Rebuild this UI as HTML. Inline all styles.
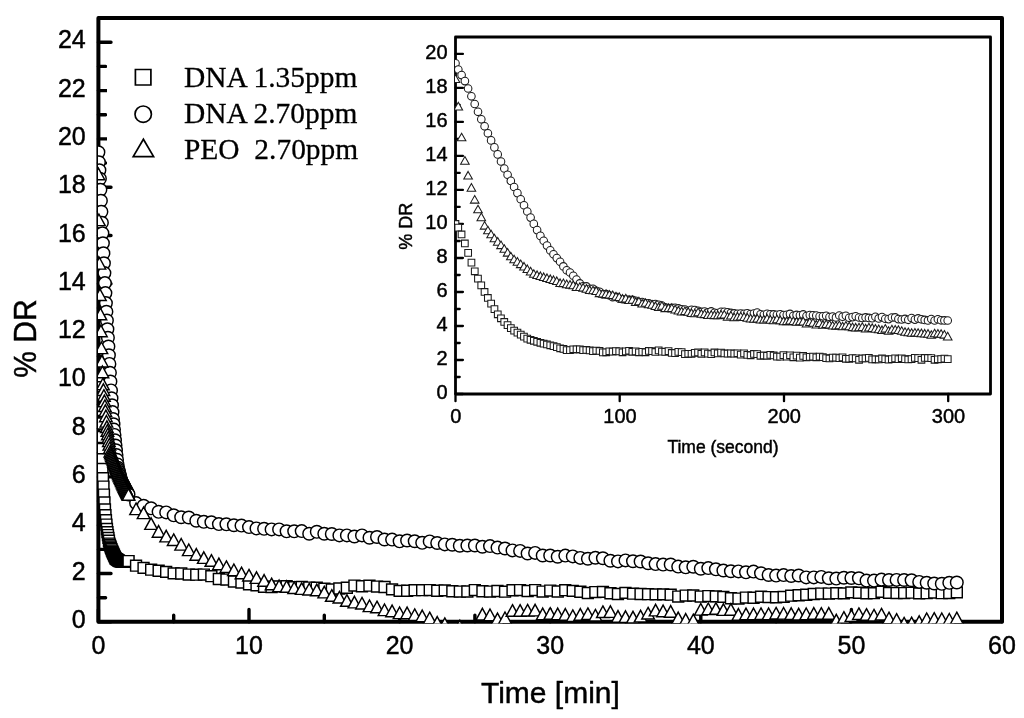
<!DOCTYPE html>
<html lang="en"><head><meta charset="utf-8"><title>% DR vs Time</title>
<style>
html,body{margin:0;padding:0;background:#fff}
svg{display:block}
text{font-family:"Liberation Sans",Arial,Helvetica,sans-serif;fill:#000;stroke:#000;stroke-width:0.45px}
.leg text{font-family:"Liberation Serif","Times New Roman",serif;font-size:29.45px;white-space:pre;stroke-width:0.28px}
.mt{font-size:25px}
.it{font-size:20px}
.m path,.m circle{fill:#fff;stroke:#000;stroke-width:1.45}
.i path,.i circle{fill:#fff;stroke:#1a1a1a;stroke-width:1.05}
</style></head><body>
<svg width="1024" height="718" viewBox="0 0 1024 718">
<rect width="1024" height="718" fill="#fff"/>
<defs><clipPath id="cm"><rect x="98" y="18" width="906" height="605.4"/></clipPath><clipPath id="ci"><rect x="455" y="37" width="536" height="358"/></clipPath></defs>
<g stroke="#000" fill="none" stroke-linejoin="round" stroke-linecap="round">
<rect x="98.4" y="18" width="903.6" height="603.8" stroke-width="4"/>
<path d="M98.4 621.8h12.6M98.4 597.7h7.2M98.4 573.5h12.6M98.4 549.4h7.2M98.4 525.2h12.6M98.4 501.1h7.2M98.4 476.9h12.6M98.4 452.8h7.2M98.4 428.6h12.6M98.4 404.5h7.2M98.4 380.3h12.6M98.4 356.2h7.2M98.4 332h12.6M98.4 307.9h7.2M98.4 283.8h12.6M98.4 259.6h7.2M98.4 235.5h12.6M98.4 211.3h7.2M98.4 187.2h12.6M98.4 163h7.2M98.4 138.9h12.6M98.4 114.7h7.2M98.4 90.6h12.6M98.4 66.4h7.2M98.4 42.3h12.6M98.4 621.8v-12.4M173.7 621.8v-6.6M249 621.8v-12.4M324.3 621.8v-6.6M399.6 621.8v-12.4M474.9 621.8v-6.6M550.2 621.8v-12.4M625.5 621.8v-6.6M700.8 621.8v-12.4M776.1 621.8v-6.6M851.4 621.8v-12.4M926.7 621.8v-6.6M1002 621.8v-12.4" stroke-width="3.4"/>
</g>
<g class="mt" text-anchor="end">
<text x="85.7" y="627.9">0</text><text x="85.7" y="579.6">2</text><text x="85.7" y="531.3">4</text><text x="85.7" y="483">6</text><text x="85.7" y="434.7">8</text><text x="85.7" y="386.4">10</text><text x="85.7" y="338.1">12</text><text x="85.7" y="289.9">14</text><text x="85.7" y="241.6">16</text><text x="85.7" y="193.3">18</text><text x="85.7" y="145">20</text><text x="85.7" y="96.7">22</text><text x="85.7" y="48.4">24</text>
</g>
<g class="mt" text-anchor="middle">
<text x="98.4" y="654">0</text><text x="249" y="654">10</text><text x="399.6" y="654">20</text><text x="550.2" y="654">30</text><text x="700.8" y="654">40</text><text x="851.4" y="654">50</text><text x="1002" y="654">60</text>
</g>
<text x="550.4" y="702.5" text-anchor="middle" font-size="30">Time [min]</text>
<text transform="translate(36.1 338.6) rotate(-90) scale(1 1.05)" text-anchor="middle" font-size="30">% DR</text>
<g class="leg">
<rect x="107" y="55" width="270" height="118" fill="#fff"/>
<path d="M135.4 69.5h15.5v15.5h-15.5z" fill="none" stroke="#000" stroke-width="1.7"/><circle cx="143.2" cy="114.2" r="8.2" fill="none" stroke="#000" stroke-width="1.7"/><path d="M143.4 139.2L153.6 156.6H133.2Z" fill="none" stroke="#000" stroke-width="1.7"/>
<text x="184" y="86.7">DNA 1.35ppm</text>
<text x="184" y="122.9">DNA 2.70ppm</text>
<text x="184" y="158.8" xml:space="preserve">PEO  2.70ppm</text>
</g>
<g class="m" clip-path="url(#cm)">
<path d="M93 374.9h10.9v10.9h-10.9z"/><path d="M93.5 381.7h10.9v10.9h-10.9z"/><path d="M94 391.8h10.9v10.9h-10.9z"/><path d="M94.5 404.5h10.9v10.9h-10.9z"/><path d="M95 418h10.9v10.9h-10.9z"/><path d="M95.5 431.6h10.9v10.9h-10.9z"/><path d="M96 443.6h10.9v10.9h-10.9z"/><path d="M96.5 453.8h10.9v10.9h-10.9z"/><path d="M97 463.5h10.9v10.9h-10.9z"/><path d="M97.5 472.7h10.9v10.9h-10.9z"/><path d="M98 481.1h10.9v10.9h-10.9z"/><path d="M98.5 489.1h10.9v10.9h-10.9z"/><path d="M99 496.9h10.9v10.9h-10.9z"/><path d="M99.5 504h10.9v10.9h-10.9z"/><path d="M100 509.7h10.9v10.9h-10.9z"/><path d="M100.5 514.7h10.9v10.9h-10.9z"/><path d="M101 519.1h10.9v10.9h-10.9z"/><path d="M101.5 523.5h10.9v10.9h-10.9z"/><path d="M102 526.7h10.9v10.9h-10.9z"/><path d="M102.5 529.6h10.9v10.9h-10.9z"/><path d="M103 532.4h10.9v10.9h-10.9z"/><path d="M103.5 535.3h10.9v10.9h-10.9z"/><path d="M104 538.1h10.9v10.9h-10.9z"/><path d="M104.5 539.5h10.9v10.9h-10.9z"/><path d="M105 540.9h10.9v10.9h-10.9z"/><path d="M105.5 542.3h10.9v10.9h-10.9z"/><path d="M106 543.7h10.9v10.9h-10.9z"/><path d="M106.5 545.1h10.9v10.9h-10.9z"/><path d="M107 546.2h10.9v10.9h-10.9z"/><path d="M107.5 547.3h10.9v10.9h-10.9z"/><path d="M108 548.4h10.9v10.9h-10.9z"/><path d="M108.5 549.5h10.9v10.9h-10.9z"/><path d="M109 550.6h10.9v10.9h-10.9z"/><path d="M109.5 551.7h10.9v10.9h-10.9z"/><path d="M110 552.8h10.9v10.9h-10.9z"/><path d="M110.5 553.2h10.9v10.9h-10.9z"/><path d="M111 553.6h10.9v10.9h-10.9z"/><path d="M111.5 553.9h10.9v10.9h-10.9z"/><path d="M112 554.3h10.9v10.9h-10.9z"/><path d="M112.5 554.6h10.9v10.9h-10.9z"/><path d="M113 555h10.9v10.9h-10.9z"/><path d="M113.5 555.3h10.9v10.9h-10.9z"/><path d="M114 555.6h10.9v10.9h-10.9z"/><path d="M114.5 555.6h10.9v10.9h-10.9z"/><path d="M115 555.7h10.9v10.9h-10.9z"/><path d="M115.5 555.8h10.9v10.9h-10.9z"/><path d="M116 555.9h10.9v10.9h-10.9z"/><path d="M116.5 556h10.9v10.9h-10.9z"/><path d="M117 556.1h10.9v10.9h-10.9z"/><path d="M117.5 556.2h10.9v10.9h-10.9z"/><path d="M118 556.3h10.9v10.9h-10.9z"/><path d="M118.6 556.4h10.9v10.9h-10.9z"/><path d="M119.1 556.4h10.9v10.9h-10.9z"/><path d="M119.6 556.3h10.9v10.9h-10.9z"/><path d="M120.1 556.2h10.9v10.9h-10.9z"/><path d="M120.6 556.1h10.9v10.9h-10.9z"/><path d="M121.1 556h10.9v10.9h-10.9z"/><path d="M121.6 555.9h10.9v10.9h-10.9z"/><path d="M122.1 555.8h10.9v10.9h-10.9z"/><path d="M122.6 555.7h10.9v10.9h-10.9z"/><path d="M123.1 555.6h10.9v10.9h-10.9z"/><path d="M130.6 560.2h10.9v10.9h-10.9z"/><path d="M138.1 562.4h10.9v10.9h-10.9z"/><path d="M145.7 564.2h10.9v10.9h-10.9z"/><path d="M153.2 565.3h10.9v10.9h-10.9z"/><path d="M160.7 566.4h10.9v10.9h-10.9z"/><path d="M168.2 567.9h10.9v10.9h-10.9z"/><path d="M175.8 568h10.9v10.9h-10.9z"/><path d="M183.3 569.1h10.9v10.9h-10.9z"/><path d="M190.8 569.2h10.9v10.9h-10.9z"/><path d="M198.4 569.1h10.9v10.9h-10.9z"/><path d="M205.9 570.7h10.9v10.9h-10.9z"/><path d="M213.4 573.5h10.9v10.9h-10.9z"/><path d="M221 574.1h10.9v10.9h-10.9z"/><path d="M228.5 576h10.9v10.9h-10.9z"/><path d="M236 577h10.9v10.9h-10.9z"/><path d="M243.6 578.8h10.9v10.9h-10.9z"/><path d="M251.1 579.8h10.9v10.9h-10.9z"/><path d="M258.6 581.3h10.9v10.9h-10.9z"/><path d="M266.1 581.5h10.9v10.9h-10.9z"/><path d="M273.7 580.9h10.9v10.9h-10.9z"/><path d="M281.2 580.8h10.9v10.9h-10.9z"/><path d="M288.7 581.7h10.9v10.9h-10.9z"/><path d="M296.3 581.5h10.9v10.9h-10.9z"/><path d="M303.8 582.1h10.9v10.9h-10.9z"/><path d="M311.3 582.3h10.9v10.9h-10.9z"/><path d="M318.9 583.2h10.9v10.9h-10.9z"/><path d="M326.4 584h10.9v10.9h-10.9z"/><path d="M333.9 583h10.9v10.9h-10.9z"/><path d="M341.4 582.3h10.9v10.9h-10.9z"/><path d="M349 580.1h10.9v10.9h-10.9z"/><path d="M356.5 580.8h10.9v10.9h-10.9z"/><path d="M364 580.2h10.9v10.9h-10.9z"/><path d="M371.6 581.1h10.9v10.9h-10.9z"/><path d="M379.1 581.5h10.9v10.9h-10.9z"/><path d="M386.6 583.9h10.9v10.9h-10.9z"/><path d="M394.2 585.4h10.9v10.9h-10.9z"/><path d="M401.7 585.3h10.9v10.9h-10.9z"/><path d="M409.2 584.7h10.9v10.9h-10.9z"/><path d="M416.7 584.7h10.9v10.9h-10.9z"/><path d="M424.3 584.6h10.9v10.9h-10.9z"/><path d="M431.8 585.3h10.9v10.9h-10.9z"/><path d="M439.3 584.9h10.9v10.9h-10.9z"/><path d="M446.9 585.8h10.9v10.9h-10.9z"/><path d="M454.4 586.1h10.9v10.9h-10.9z"/><path d="M461.9 586h10.9v10.9h-10.9z"/><path d="M469.4 584.6h10.9v10.9h-10.9z"/><path d="M477 585.8h10.9v10.9h-10.9z"/><path d="M484.5 586.1h10.9v10.9h-10.9z"/><path d="M492 585.5h10.9v10.9h-10.9z"/><path d="M499.6 586.2h10.9v10.9h-10.9z"/><path d="M507.1 584.8h10.9v10.9h-10.9z"/><path d="M514.6 584.6h10.9v10.9h-10.9z"/><path d="M522.2 585.5h10.9v10.9h-10.9z"/><path d="M529.7 584.6h10.9v10.9h-10.9z"/><path d="M537.2 586.1h10.9v10.9h-10.9z"/><path d="M544.8 585.1h10.9v10.9h-10.9z"/><path d="M552.3 586h10.9v10.9h-10.9z"/><path d="M559.8 584.7h10.9v10.9h-10.9z"/><path d="M567.3 585.4h10.9v10.9h-10.9z"/><path d="M574.9 586.3h10.9v10.9h-10.9z"/><path d="M582.4 587.5h10.9v10.9h-10.9z"/><path d="M589.9 586.6h10.9v10.9h-10.9z"/><path d="M597.5 586.4h10.9v10.9h-10.9z"/><path d="M605 587.8h10.9v10.9h-10.9z"/><path d="M612.5 588.5h10.9v10.9h-10.9z"/><path d="M620 587.4h10.9v10.9h-10.9z"/><path d="M627.6 588.2h10.9v10.9h-10.9z"/><path d="M635.1 588.5h10.9v10.9h-10.9z"/><path d="M642.6 588.7h10.9v10.9h-10.9z"/><path d="M650.2 588.9h10.9v10.9h-10.9z"/><path d="M657.7 588.9h10.9v10.9h-10.9z"/><path d="M665.2 589.2h10.9v10.9h-10.9z"/><path d="M672.8 591.1h10.9v10.9h-10.9z"/><path d="M680.3 590.1h10.9v10.9h-10.9z"/><path d="M687.8 590h10.9v10.9h-10.9z"/><path d="M695.3 591.1h10.9v10.9h-10.9z"/><path d="M702.9 590.6h10.9v10.9h-10.9z"/><path d="M710.4 590.9h10.9v10.9h-10.9z"/><path d="M717.9 591.4h10.9v10.9h-10.9z"/><path d="M725.5 592.8h10.9v10.9h-10.9z"/><path d="M733 593.1h10.9v10.9h-10.9z"/><path d="M740.5 592.1h10.9v10.9h-10.9z"/><path d="M748.1 592.3h10.9v10.9h-10.9z"/><path d="M755.6 591.3h10.9v10.9h-10.9z"/><path d="M763.1 591.6h10.9v10.9h-10.9z"/><path d="M770.6 591.8h10.9v10.9h-10.9z"/><path d="M778.2 591.4h10.9v10.9h-10.9z"/><path d="M785.7 590.2h10.9v10.9h-10.9z"/><path d="M793.2 589.8h10.9v10.9h-10.9z"/><path d="M800.8 589.3h10.9v10.9h-10.9z"/><path d="M808.3 588.5h10.9v10.9h-10.9z"/><path d="M815.8 588.1h10.9v10.9h-10.9z"/><path d="M823.4 588.1h10.9v10.9h-10.9z"/><path d="M830.9 587.7h10.9v10.9h-10.9z"/><path d="M838.4 587.9h10.9v10.9h-10.9z"/><path d="M845.9 586.9h10.9v10.9h-10.9z"/><path d="M853.5 587.3h10.9v10.9h-10.9z"/><path d="M861 587.8h10.9v10.9h-10.9z"/><path d="M868.5 587.7h10.9v10.9h-10.9z"/><path d="M876.1 586.3h10.9v10.9h-10.9z"/><path d="M883.6 587.4h10.9v10.9h-10.9z"/><path d="M891.1 587.6h10.9v10.9h-10.9z"/><path d="M898.7 587.6h10.9v10.9h-10.9z"/><path d="M906.2 587.2h10.9v10.9h-10.9z"/><path d="M913.7 587.9h10.9v10.9h-10.9z"/><path d="M921.2 587.7h10.9v10.9h-10.9z"/><path d="M928.8 587.1h10.9v10.9h-10.9z"/><path d="M936.3 587.7h10.9v10.9h-10.9z"/><path d="M943.8 587.5h10.9v10.9h-10.9z"/><path d="M951.4 586.9h10.9v10.9h-10.9z"/>
<circle cx="98.4" cy="152.2" r="6.3"/><circle cx="98.9" cy="162.2" r="6.3"/><circle cx="99.4" cy="170.3" r="6.3"/><circle cx="99.9" cy="178.7" r="6.3"/><circle cx="100.4" cy="189.7" r="6.3"/><circle cx="100.9" cy="200.7" r="6.3"/><circle cx="101.4" cy="211.7" r="6.3"/><circle cx="101.9" cy="222.7" r="6.3"/><circle cx="102.4" cy="233.2" r="6.3"/><circle cx="102.9" cy="243.2" r="6.3"/><circle cx="103.4" cy="253.2" r="6.3"/><circle cx="103.9" cy="263.2" r="6.3"/><circle cx="104.4" cy="273.1" r="6.3"/><circle cx="104.9" cy="283.1" r="6.3"/><circle cx="105.4" cy="293.1" r="6.3"/><circle cx="105.9" cy="303.1" r="6.3"/><circle cx="106.4" cy="311.8" r="6.3"/><circle cx="106.9" cy="320.5" r="6.3"/><circle cx="107.4" cy="329.2" r="6.3"/><circle cx="107.9" cy="337.8" r="6.3"/><circle cx="108.4" cy="346.5" r="6.3"/><circle cx="108.9" cy="355.2" r="6.3"/><circle cx="109.4" cy="363.9" r="6.3"/><circle cx="109.9" cy="372.7" r="6.3"/><circle cx="110.4" cy="381.5" r="6.3"/><circle cx="111" cy="390.4" r="6.3"/><circle cx="111.5" cy="398.3" r="6.3"/><circle cx="112" cy="405.2" r="6.3"/><circle cx="112.5" cy="412.1" r="6.3"/><circle cx="113" cy="419" r="6.3"/><circle cx="113.5" cy="424.3" r="6.3"/><circle cx="114" cy="429.6" r="6.3"/><circle cx="114.5" cy="434.9" r="6.3"/><circle cx="115" cy="440.2" r="6.3"/><circle cx="115.5" cy="445.5" r="6.3"/><circle cx="116" cy="450.3" r="6.3"/><circle cx="116.5" cy="455" r="6.3"/><circle cx="117" cy="459.7" r="6.3"/><circle cx="117.5" cy="464.4" r="6.3"/><circle cx="118" cy="467.8" r="6.3"/><circle cx="118.5" cy="469.7" r="6.3"/><circle cx="119" cy="471.7" r="6.3"/><circle cx="119.5" cy="473.7" r="6.3"/><circle cx="120" cy="475.6" r="6.3"/><circle cx="120.5" cy="477.6" r="6.3"/><circle cx="121" cy="479.6" r="6.3"/><circle cx="121.5" cy="481" r="6.3"/><circle cx="122" cy="482.1" r="6.3"/><circle cx="122.5" cy="483.1" r="6.3"/><circle cx="123" cy="484.1" r="6.3"/><circle cx="123.5" cy="485.1" r="6.3"/><circle cx="124" cy="486.1" r="6.3"/><circle cx="124.5" cy="487" r="6.3"/><circle cx="125" cy="488" r="6.3"/><circle cx="125.5" cy="488.9" r="6.3"/><circle cx="126" cy="489.8" r="6.3"/><circle cx="126.5" cy="490.8" r="6.3"/><circle cx="127" cy="491.7" r="6.3"/><circle cx="127.5" cy="492.6" r="6.3"/><circle cx="128" cy="493.6" r="6.3"/><circle cx="128.5" cy="494.5" r="6.3"/><circle cx="136.1" cy="503.1" r="6.3"/><circle cx="143.6" cy="505.8" r="6.3"/><circle cx="151.1" cy="508.3" r="6.3"/><circle cx="158.6" cy="511.8" r="6.3"/><circle cx="166.2" cy="512.4" r="6.3"/><circle cx="173.7" cy="515.3" r="6.3"/><circle cx="181.2" cy="517.2" r="6.3"/><circle cx="188.8" cy="517.5" r="6.3"/><circle cx="196.3" cy="520.7" r="6.3"/><circle cx="203.8" cy="521.8" r="6.3"/><circle cx="211.4" cy="522.3" r="6.3"/><circle cx="218.9" cy="524.1" r="6.3"/><circle cx="226.4" cy="524.3" r="6.3"/><circle cx="233.9" cy="525.2" r="6.3"/><circle cx="241.5" cy="525.6" r="6.3"/><circle cx="249" cy="527.1" r="6.3"/><circle cx="256.5" cy="528.4" r="6.3"/><circle cx="264.1" cy="528.8" r="6.3"/><circle cx="271.6" cy="529.4" r="6.3"/><circle cx="279.1" cy="529.4" r="6.3"/><circle cx="286.6" cy="531.3" r="6.3"/><circle cx="294.2" cy="531.3" r="6.3"/><circle cx="301.7" cy="531.1" r="6.3"/><circle cx="309.2" cy="533.7" r="6.3"/><circle cx="316.8" cy="531.8" r="6.3"/><circle cx="324.3" cy="533.7" r="6.3"/><circle cx="331.8" cy="534" r="6.3"/><circle cx="339.4" cy="535.4" r="6.3"/><circle cx="346.9" cy="535.4" r="6.3"/><circle cx="354.4" cy="536.5" r="6.3"/><circle cx="362" cy="535.4" r="6.3"/><circle cx="369.5" cy="537.7" r="6.3"/><circle cx="377" cy="537" r="6.3"/><circle cx="384.5" cy="539.5" r="6.3"/><circle cx="392.1" cy="539.6" r="6.3"/><circle cx="399.6" cy="541.3" r="6.3"/><circle cx="407.1" cy="540.5" r="6.3"/><circle cx="414.7" cy="541.2" r="6.3"/><circle cx="422.2" cy="542.8" r="6.3"/><circle cx="429.7" cy="541.4" r="6.3"/><circle cx="437.2" cy="543" r="6.3"/><circle cx="444.8" cy="544.4" r="6.3"/><circle cx="452.3" cy="544.7" r="6.3"/><circle cx="459.8" cy="545.7" r="6.3"/><circle cx="467.4" cy="545.5" r="6.3"/><circle cx="474.9" cy="545.5" r="6.3"/><circle cx="482.4" cy="546.7" r="6.3"/><circle cx="490" cy="546.1" r="6.3"/><circle cx="497.5" cy="547.6" r="6.3"/><circle cx="505" cy="548.5" r="6.3"/><circle cx="512.5" cy="550.4" r="6.3"/><circle cx="520.1" cy="550.9" r="6.3"/><circle cx="527.6" cy="553.5" r="6.3"/><circle cx="535.1" cy="552.9" r="6.3"/><circle cx="542.7" cy="555.5" r="6.3"/><circle cx="550.2" cy="555.5" r="6.3"/><circle cx="557.7" cy="556.7" r="6.3"/><circle cx="565.3" cy="555.6" r="6.3"/><circle cx="572.8" cy="556.4" r="6.3"/><circle cx="580.3" cy="557.9" r="6.3"/><circle cx="587.9" cy="558.7" r="6.3"/><circle cx="595.4" cy="557.7" r="6.3"/><circle cx="602.9" cy="558.2" r="6.3"/><circle cx="610.4" cy="560.7" r="6.3"/><circle cx="618" cy="561.4" r="6.3"/><circle cx="625.5" cy="560.4" r="6.3"/><circle cx="633" cy="561.2" r="6.3"/><circle cx="640.6" cy="561.5" r="6.3"/><circle cx="648.1" cy="563.2" r="6.3"/><circle cx="655.6" cy="564.1" r="6.3"/><circle cx="663.1" cy="564.6" r="6.3"/><circle cx="670.7" cy="564.5" r="6.3"/><circle cx="678.2" cy="566.6" r="6.3"/><circle cx="685.7" cy="567.3" r="6.3"/><circle cx="693.3" cy="566.7" r="6.3"/><circle cx="700.8" cy="568.7" r="6.3"/><circle cx="708.3" cy="568.1" r="6.3"/><circle cx="715.9" cy="569.3" r="6.3"/><circle cx="723.4" cy="570.5" r="6.3"/><circle cx="730.9" cy="571.2" r="6.3"/><circle cx="738.4" cy="571.4" r="6.3"/><circle cx="746" cy="572.3" r="6.3"/><circle cx="753.5" cy="571.6" r="6.3"/><circle cx="761" cy="573.3" r="6.3"/><circle cx="768.6" cy="575" r="6.3"/><circle cx="776.1" cy="575.6" r="6.3"/><circle cx="783.6" cy="575.1" r="6.3"/><circle cx="791.2" cy="576" r="6.3"/><circle cx="798.7" cy="575.5" r="6.3"/><circle cx="806.2" cy="577.4" r="6.3"/><circle cx="813.8" cy="577.4" r="6.3"/><circle cx="821.3" cy="576.9" r="6.3"/><circle cx="828.8" cy="578.2" r="6.3"/><circle cx="836.3" cy="578.6" r="6.3"/><circle cx="843.9" cy="577.7" r="6.3"/><circle cx="851.4" cy="578" r="6.3"/><circle cx="858.9" cy="578.3" r="6.3"/><circle cx="866.5" cy="580.6" r="6.3"/><circle cx="874" cy="580.6" r="6.3"/><circle cx="881.5" cy="579.6" r="6.3"/><circle cx="889" cy="580" r="6.3"/><circle cx="896.6" cy="579.9" r="6.3"/><circle cx="904.1" cy="580" r="6.3"/><circle cx="911.6" cy="580.2" r="6.3"/><circle cx="919.2" cy="581.9" r="6.3"/><circle cx="926.7" cy="582.7" r="6.3"/><circle cx="934.2" cy="583.5" r="6.3"/><circle cx="941.8" cy="583.8" r="6.3"/><circle cx="949.3" cy="582.8" r="6.3"/><circle cx="956.8" cy="582.5" r="6.3"/>
<path d="M98.4 168.1l6.3 11.6h-12.6z"/><path d="M98.9 214l6.3 11.6h-12.6z"/><path d="M99.4 257.5l6.3 11.6h-12.6z"/><path d="M99.9 288.9l6.3 11.6h-12.6z"/><path d="M100.4 308.2l6.3 11.6h-12.6z"/><path d="M100.9 325.1l6.3 11.6h-12.6z"/><path d="M101.4 342l6.3 11.6h-12.6z"/><path d="M101.9 355.3l6.3 11.6h-12.6z"/><path d="M102.4 366.1l6.3 11.6h-12.6z"/><path d="M102.9 378.2l6.3 11.6h-12.6z"/><path d="M103.4 383.8l6.3 11.6h-12.6z"/><path d="M103.9 389.7l6.3 11.6h-12.6z"/><path d="M104.4 395.1l6.3 11.6h-12.6z"/><path d="M104.9 399.9l6.3 11.6h-12.6z"/><path d="M105.4 404.8l6.3 11.6h-12.6z"/><path d="M105.9 410.1l6.3 11.6h-12.6z"/><path d="M106.4 415.5l6.3 11.6h-12.6z"/><path d="M106.9 420.8l6.3 11.6h-12.6z"/><path d="M107.4 424.7l6.3 11.6h-12.6z"/><path d="M107.9 428.2l6.3 11.6h-12.6z"/><path d="M108.4 431.6l6.3 11.6h-12.6z"/><path d="M108.9 435l6.3 11.6h-12.6z"/><path d="M109.4 438.5l6.3 11.6h-12.6z"/><path d="M109.9 441.9l6.3 11.6h-12.6z"/><path d="M110.4 445.3l6.3 11.6h-12.6z"/><path d="M111 446.8l6.3 11.6h-12.6z"/><path d="M111.5 448.2l6.3 11.6h-12.6z"/><path d="M112 449.6l6.3 11.6h-12.6z"/><path d="M112.5 451l6.3 11.6h-12.6z"/><path d="M113 452.4l6.3 11.6h-12.6z"/><path d="M113.5 453.8l6.3 11.6h-12.6z"/><path d="M114 455.3l6.3 11.6h-12.6z"/><path d="M114.5 456.7l6.3 11.6h-12.6z"/><path d="M115 458l6.3 11.6h-12.6z"/><path d="M115.5 459.2l6.3 11.6h-12.6z"/><path d="M116 460.5l6.3 11.6h-12.6z"/><path d="M116.5 461.8l6.3 11.6h-12.6z"/><path d="M117 463l6.3 11.6h-12.6z"/><path d="M117.5 464.3l6.3 11.6h-12.6z"/><path d="M118 465.6l6.3 11.6h-12.6z"/><path d="M118.5 466.9l6.3 11.6h-12.6z"/><path d="M119 468.1l6.3 11.6h-12.6z"/><path d="M119.5 469.3l6.3 11.6h-12.6z"/><path d="M120 470.5l6.3 11.6h-12.6z"/><path d="M120.5 471.6l6.3 11.6h-12.6z"/><path d="M121 472.7l6.3 11.6h-12.6z"/><path d="M121.5 473.9l6.3 11.6h-12.6z"/><path d="M122 475l6.3 11.6h-12.6z"/><path d="M122.5 476.1l6.3 11.6h-12.6z"/><path d="M123 477.3l6.3 11.6h-12.6z"/><path d="M123.5 478.4l6.3 11.6h-12.6z"/><path d="M124 479.5l6.3 11.6h-12.6z"/><path d="M124.5 480.6l6.3 11.6h-12.6z"/><path d="M125 481.6l6.3 11.6h-12.6z"/><path d="M125.5 482.6l6.3 11.6h-12.6z"/><path d="M126 483.7l6.3 11.6h-12.6z"/><path d="M126.5 484.7l6.3 11.6h-12.6z"/><path d="M127 485.7l6.3 11.6h-12.6z"/><path d="M127.5 486.7l6.3 11.6h-12.6z"/><path d="M128 487.7l6.3 11.6h-12.6z"/><path d="M128.5 488.7l6.3 11.6h-12.6z"/><path d="M136.1 503l6.3 11.6h-12.6z"/><path d="M143.6 507l6.3 11.6h-12.6z"/><path d="M151.1 517.8l6.3 11.6h-12.6z"/><path d="M158.6 525.6l6.3 11.6h-12.6z"/><path d="M166.2 530.3l6.3 11.6h-12.6z"/><path d="M173.7 533.9l6.3 11.6h-12.6z"/><path d="M181.2 538.5l6.3 11.6h-12.6z"/><path d="M188.8 544l6.3 11.6h-12.6z"/><path d="M196.3 548.6l6.3 11.6h-12.6z"/><path d="M203.8 551.8l6.3 11.6h-12.6z"/><path d="M211.4 554.7l6.3 11.6h-12.6z"/><path d="M218.9 558.1l6.3 11.6h-12.6z"/><path d="M226.4 560.9l6.3 11.6h-12.6z"/><path d="M233.9 564l6.3 11.6h-12.6z"/><path d="M241.5 567.2l6.3 11.6h-12.6z"/><path d="M249 569.4l6.3 11.6h-12.6z"/><path d="M256.5 571.8l6.3 11.6h-12.6z"/><path d="M264.1 574.6l6.3 11.6h-12.6z"/><path d="M271.6 578.2l6.3 11.6h-12.6z"/><path d="M279.1 580l6.3 11.6h-12.6z"/><path d="M286.6 580.7l6.3 11.6h-12.6z"/><path d="M294.2 581.9l6.3 11.6h-12.6z"/><path d="M301.7 582.8l6.3 11.6h-12.6z"/><path d="M309.2 583.4l6.3 11.6h-12.6z"/><path d="M316.8 584.1l6.3 11.6h-12.6z"/><path d="M324.3 586.3l6.3 11.6h-12.6z"/><path d="M331.8 589.7l6.3 11.6h-12.6z"/><path d="M339.4 591.4l6.3 11.6h-12.6z"/><path d="M346.9 594.7l6.3 11.6h-12.6z"/><path d="M354.4 596.3l6.3 11.6h-12.6z"/><path d="M362 597.4l6.3 11.6h-12.6z"/><path d="M369.5 600l6.3 11.6h-12.6z"/><path d="M377 601.2l6.3 11.6h-12.6z"/><path d="M384.5 604l6.3 11.6h-12.6z"/><path d="M392.1 605.1l6.3 11.6h-12.6z"/><path d="M399.6 607l6.3 11.6h-12.6z"/><path d="M407.1 607.1l6.3 11.6h-12.6z"/><path d="M414.7 608.9l6.3 11.6h-12.6z"/><path d="M422.2 610.1l6.3 11.6h-12.6z"/><path d="M429.7 612.2l6.3 11.6h-12.6z"/><path d="M437.2 616.6l6.3 11.6h-12.6z"/><path d="M444.8 617.9l6.3 11.6h-12.6z"/><path d="M452.3 627.1l6.3 11.6h-12.6z"/><path d="M459.8 620.2l6.3 11.6h-12.6z"/><path d="M467.4 627.6l6.3 11.6h-12.6z"/><path d="M474.9 627.4l6.3 11.6h-12.6z"/><path d="M482.4 608.3l6.3 11.6h-12.6z"/><path d="M490 609l6.3 11.6h-12.6z"/><path d="M497.5 613.1l6.3 11.6h-12.6z"/><path d="M505 612l6.3 11.6h-12.6z"/><path d="M512.5 604.7l6.3 11.6h-12.6z"/><path d="M520.1 604.7l6.3 11.6h-12.6z"/><path d="M527.6 604.4l6.3 11.6h-12.6z"/><path d="M535.1 604.3l6.3 11.6h-12.6z"/><path d="M542.7 608.1l6.3 11.6h-12.6z"/><path d="M550.2 607.7l6.3 11.6h-12.6z"/><path d="M557.7 608.1l6.3 11.6h-12.6z"/><path d="M565.3 608.6l6.3 11.6h-12.6z"/><path d="M572.8 609.9l6.3 11.6h-12.6z"/><path d="M580.3 608.6l6.3 11.6h-12.6z"/><path d="M587.9 607.9l6.3 11.6h-12.6z"/><path d="M595.4 609.4l6.3 11.6h-12.6z"/><path d="M602.9 605.9l6.3 11.6h-12.6z"/><path d="M610.4 605.8l6.3 11.6h-12.6z"/><path d="M618 610.6l6.3 11.6h-12.6z"/><path d="M625.5 610.8l6.3 11.6h-12.6z"/><path d="M633 611.3l6.3 11.6h-12.6z"/><path d="M640.6 610.3l6.3 11.6h-12.6z"/><path d="M648.1 607.4l6.3 11.6h-12.6z"/><path d="M655.6 604.3l6.3 11.6h-12.6z"/><path d="M663.1 605.1l6.3 11.6h-12.6z"/><path d="M670.7 605.6l6.3 11.6h-12.6z"/><path d="M678.2 612.1l6.3 11.6h-12.6z"/><path d="M685.7 613.6l6.3 11.6h-12.6z"/><path d="M693.3 614.2l6.3 11.6h-12.6z"/><path d="M700.8 603.5l6.3 11.6h-12.6z"/><path d="M708.3 603l6.3 11.6h-12.6z"/><path d="M715.9 602.7l6.3 11.6h-12.6z"/><path d="M723.4 603.8l6.3 11.6h-12.6z"/><path d="M730.9 603.6l6.3 11.6h-12.6z"/><path d="M738.4 608.6l6.3 11.6h-12.6z"/><path d="M746 608.1l6.3 11.6h-12.6z"/><path d="M753.5 608.1l6.3 11.6h-12.6z"/><path d="M761 607.9l6.3 11.6h-12.6z"/><path d="M768.6 608l6.3 11.6h-12.6z"/><path d="M776.1 607.4l6.3 11.6h-12.6z"/><path d="M783.6 607.5l6.3 11.6h-12.6z"/><path d="M791.2 607.8l6.3 11.6h-12.6z"/><path d="M798.7 608.3l6.3 11.6h-12.6z"/><path d="M806.2 608l6.3 11.6h-12.6z"/><path d="M813.8 607.6l6.3 11.6h-12.6z"/><path d="M821.3 607.7l6.3 11.6h-12.6z"/><path d="M828.8 607.6l6.3 11.6h-12.6z"/><path d="M836.3 614.3l6.3 11.6h-12.6z"/><path d="M843.9 611.7l6.3 11.6h-12.6z"/><path d="M851.4 609.9l6.3 11.6h-12.6z"/><path d="M858.9 607.9l6.3 11.6h-12.6z"/><path d="M866.5 608.7l6.3 11.6h-12.6z"/><path d="M874 609.4l6.3 11.6h-12.6z"/><path d="M881.5 608.4l6.3 11.6h-12.6z"/><path d="M889 612.2l6.3 11.6h-12.6z"/><path d="M896.6 613.7l6.3 11.6h-12.6z"/><path d="M904.1 617.4l6.3 11.6h-12.6z"/><path d="M911.6 617.2l6.3 11.6h-12.6z"/><path d="M919.2 615.8l6.3 11.6h-12.6z"/><path d="M926.7 613l6.3 11.6h-12.6z"/><path d="M934.2 612.7l6.3 11.6h-12.6z"/><path d="M941.8 613l6.3 11.6h-12.6z"/><path d="M949.3 613.5l6.3 11.6h-12.6z"/><path d="M956.8 612.2l6.3 11.6h-12.6z"/>
</g>
<rect x="455.5" y="37" width="535" height="357" fill="#fff" stroke="#000" stroke-width="2.8" stroke-linejoin="round"/>
<path d="M455.5 394h7.4M455.5 377h4.2M455.5 360h7.4M455.5 343h4.2M455.5 326h7.4M455.5 309h4.2M455.5 292h7.4M455.5 275h4.2M455.5 258h7.4M455.5 241h4.2M455.5 223.9h7.4M455.5 206.9h4.2M455.5 189.9h7.4M455.5 172.9h4.2M455.5 155.9h7.4M455.5 138.9h4.2M455.5 121.9h7.4M455.5 104.9h4.2M455.5 87.9h7.4M455.5 70.9h4.2M455.5 53.9h7.4M455.5 394v7.2M619.7 394v7.2M784 394v7.2M948.2 394v7.2" stroke="#000" stroke-width="2.3" fill="none" stroke-linecap="round"/>
<g class="it" text-anchor="end">
<text x="447.6" y="399.3">0</text><text x="447.6" y="365.3">2</text><text x="447.6" y="331.3">4</text><text x="447.6" y="297.3">6</text><text x="447.6" y="263.3">8</text><text x="447.6" y="229.2">10</text><text x="447.6" y="195.2">12</text><text x="447.6" y="161.2">14</text><text x="447.6" y="127.2">16</text><text x="447.6" y="93.2">18</text><text x="447.6" y="59.2">20</text>
</g>
<g class="it" text-anchor="middle">
<text x="455.8" y="422.5">0</text><text x="620" y="422.5">100</text><text x="784.3" y="422.5">200</text><text x="948.5" y="422.5">300</text>
</g>
<text x="723" y="453" text-anchor="middle" font-size="17.5">Time (second)</text>
<text transform="translate(412.4 226.3) rotate(-90)" text-anchor="middle" font-size="18">% DR</text>
<g class="i" clip-path="url(#ci)">
<path d="M452.1 220.6h6.7v6.7h-6.7z"/><path d="M454.9 224.3h6.7v6.7h-6.7z"/><path d="M458.2 231.1h6.7v6.7h-6.7z"/><path d="M461.5 240.1h6.7v6.7h-6.7z"/><path d="M464.8 249.5h6.7v6.7h-6.7z"/><path d="M468.1 259.2h6.7v6.7h-6.7z"/><path d="M471.4 267.9h6.7v6.7h-6.7z"/><path d="M474.6 275.2h6.7v6.7h-6.7z"/><path d="M477.9 282h6.7v6.7h-6.7z"/><path d="M481.2 288.6h6.7v6.7h-6.7z"/><path d="M484.5 294.6h6.7v6.7h-6.7z"/><path d="M487.8 300.2h6.7v6.7h-6.7z"/><path d="M491.1 305.8h6.7v6.7h-6.7z"/><path d="M494.4 310.9h6.7v6.7h-6.7z"/><path d="M497.6 314.9h6.7v6.7h-6.7z"/><path d="M500.9 318.6h6.7v6.7h-6.7z"/><path d="M504.2 321.7h6.7v6.7h-6.7z"/><path d="M507.5 324.8h6.7v6.7h-6.7z"/><path d="M510.8 327.2h6.7v6.7h-6.7z"/><path d="M514.1 329.2h6.7v6.7h-6.7z"/><path d="M517.4 331.2h6.7v6.7h-6.7z"/><path d="M520.6 333.2h6.7v6.7h-6.7z"/><path d="M523.9 335.3h6.7v6.7h-6.7z"/><path d="M527.2 336.4h6.7v6.7h-6.7z"/><path d="M530.5 337.4h6.7v6.7h-6.7z"/><path d="M533.8 338.4h6.7v6.7h-6.7z"/><path d="M537.1 339.4h6.7v6.7h-6.7z"/><path d="M540.3 340.3h6.7v6.7h-6.7z"/><path d="M543.6 341.1h6.7v6.7h-6.7z"/><path d="M546.9 341.9h6.7v6.7h-6.7z"/><path d="M550.2 342.7h6.7v6.7h-6.7z"/><path d="M553.5 343.7h6.7v6.7h-6.7z"/><path d="M556.8 344.9h6.7v6.7h-6.7z"/><path d="M560.1 345.5h6.7v6.7h-6.7z"/><path d="M563.3 346.7h6.7v6.7h-6.7z"/><path d="M566.6 346.7h6.7v6.7h-6.7z"/><path d="M569.9 345.9h6.7v6.7h-6.7z"/><path d="M573.2 345.9h6.7v6.7h-6.7z"/><path d="M576.5 345.9h6.7v6.7h-6.7z"/><path d="M579.8 346.8h6.7v6.7h-6.7z"/><path d="M583 346.6h6.7v6.7h-6.7z"/><path d="M586.3 347h6.7v6.7h-6.7z"/><path d="M589.6 347.8h6.7v6.7h-6.7z"/><path d="M592.9 347.2h6.7v6.7h-6.7z"/><path d="M596.2 347.6h6.7v6.7h-6.7z"/><path d="M599.5 349h6.7v6.7h-6.7z"/><path d="M602.8 348.9h6.7v6.7h-6.7z"/><path d="M606 347.9h6.7v6.7h-6.7z"/><path d="M609.3 348.3h6.7v6.7h-6.7z"/><path d="M612.6 347.8h6.7v6.7h-6.7z"/><path d="M615.9 348h6.7v6.7h-6.7z"/><path d="M619.2 348.9h6.7v6.7h-6.7z"/><path d="M622.5 348h6.7v6.7h-6.7z"/><path d="M625.7 347.4h6.7v6.7h-6.7z"/><path d="M629 348.4h6.7v6.7h-6.7z"/><path d="M632.3 348h6.7v6.7h-6.7z"/><path d="M635.6 348.9h6.7v6.7h-6.7z"/><path d="M638.9 348.5h6.7v6.7h-6.7z"/><path d="M642.2 348.9h6.7v6.7h-6.7z"/><path d="M645.5 347.6h6.7v6.7h-6.7z"/><path d="M648.7 347.8h6.7v6.7h-6.7z"/><path d="M652 348.6h6.7v6.7h-6.7z"/><path d="M655.3 347h6.7v6.7h-6.7z"/><path d="M658.6 348.3h6.7v6.7h-6.7z"/><path d="M661.9 348.5h6.7v6.7h-6.7z"/><path d="M665.2 347.7h6.7v6.7h-6.7z"/><path d="M668.4 349.6h6.7v6.7h-6.7z"/><path d="M671.7 349.8h6.7v6.7h-6.7z"/><path d="M675 348.5h6.7v6.7h-6.7z"/><path d="M678.3 348.7h6.7v6.7h-6.7z"/><path d="M681.6 350.8h6.7v6.7h-6.7z"/><path d="M684.9 350.4h6.7v6.7h-6.7z"/><path d="M688.2 350.4h6.7v6.7h-6.7z"/><path d="M691.4 349.5h6.7v6.7h-6.7z"/><path d="M694.7 349.1h6.7v6.7h-6.7z"/><path d="M698 350.4h6.7v6.7h-6.7z"/><path d="M701.3 349h6.7v6.7h-6.7z"/><path d="M704.6 350.2h6.7v6.7h-6.7z"/><path d="M707.9 350.8h6.7v6.7h-6.7z"/><path d="M711.1 349.1h6.7v6.7h-6.7z"/><path d="M714.4 350h6.7v6.7h-6.7z"/><path d="M717.7 349.2h6.7v6.7h-6.7z"/><path d="M721 350h6.7v6.7h-6.7z"/><path d="M724.3 350.3h6.7v6.7h-6.7z"/><path d="M727.6 350h6.7v6.7h-6.7z"/><path d="M730.9 350.3h6.7v6.7h-6.7z"/><path d="M734.1 349.9h6.7v6.7h-6.7z"/><path d="M737.4 351.2h6.7v6.7h-6.7z"/><path d="M740.7 350h6.7v6.7h-6.7z"/><path d="M744 351.5h6.7v6.7h-6.7z"/><path d="M747.3 351.9h6.7v6.7h-6.7z"/><path d="M750.6 350.6h6.7v6.7h-6.7z"/><path d="M753.8 350.7h6.7v6.7h-6.7z"/><path d="M757.1 352.4h6.7v6.7h-6.7z"/><path d="M760.4 352.1h6.7v6.7h-6.7z"/><path d="M763.7 352.4h6.7v6.7h-6.7z"/><path d="M767 351.5h6.7v6.7h-6.7z"/><path d="M770.3 352.1h6.7v6.7h-6.7z"/><path d="M773.6 353.2h6.7v6.7h-6.7z"/><path d="M776.8 353.2h6.7v6.7h-6.7z"/><path d="M780.1 351.8h6.7v6.7h-6.7z"/><path d="M783.4 353.2h6.7v6.7h-6.7z"/><path d="M786.7 351.9h6.7v6.7h-6.7z"/><path d="M790 353.9h6.7v6.7h-6.7z"/><path d="M793.3 352.2h6.7v6.7h-6.7z"/><path d="M796.5 354.2h6.7v6.7h-6.7z"/><path d="M799.8 352.6h6.7v6.7h-6.7z"/><path d="M803.1 353.9h6.7v6.7h-6.7z"/><path d="M806.4 353.5h6.7v6.7h-6.7z"/><path d="M809.7 353.2h6.7v6.7h-6.7z"/><path d="M813 353.9h6.7v6.7h-6.7z"/><path d="M816.3 353.3h6.7v6.7h-6.7z"/><path d="M819.5 353.8h6.7v6.7h-6.7z"/><path d="M822.8 354.7h6.7v6.7h-6.7z"/><path d="M826.1 355.1h6.7v6.7h-6.7z"/><path d="M829.4 354.3h6.7v6.7h-6.7z"/><path d="M832.7 354.3h6.7v6.7h-6.7z"/><path d="M836 354.8h6.7v6.7h-6.7z"/><path d="M839.2 354h6.7v6.7h-6.7z"/><path d="M842.5 355.4h6.7v6.7h-6.7z"/><path d="M845.8 355.4h6.7v6.7h-6.7z"/><path d="M849.1 354.8h6.7v6.7h-6.7z"/><path d="M852.4 355h6.7v6.7h-6.7z"/><path d="M855.7 356.4h6.7v6.7h-6.7z"/><path d="M859 355.1h6.7v6.7h-6.7z"/><path d="M862.2 355h6.7v6.7h-6.7z"/><path d="M865.5 354.5h6.7v6.7h-6.7z"/><path d="M868.8 356h6.7v6.7h-6.7z"/><path d="M872.1 355.9h6.7v6.7h-6.7z"/><path d="M875.4 356.1h6.7v6.7h-6.7z"/><path d="M878.7 355.1h6.7v6.7h-6.7z"/><path d="M881.9 355.7h6.7v6.7h-6.7z"/><path d="M885.2 356.2h6.7v6.7h-6.7z"/><path d="M888.5 355.7h6.7v6.7h-6.7z"/><path d="M891.8 355h6.7v6.7h-6.7z"/><path d="M895.1 355.8h6.7v6.7h-6.7z"/><path d="M898.4 354.9h6.7v6.7h-6.7z"/><path d="M901.7 355.7h6.7v6.7h-6.7z"/><path d="M904.9 356.1h6.7v6.7h-6.7z"/><path d="M908.2 355.8h6.7v6.7h-6.7z"/><path d="M911.5 354.5h6.7v6.7h-6.7z"/><path d="M914.8 354.8h6.7v6.7h-6.7z"/><path d="M918.1 356.4h6.7v6.7h-6.7z"/><path d="M921.4 354.6h6.7v6.7h-6.7z"/><path d="M924.6 354.6h6.7v6.7h-6.7z"/><path d="M927.9 354.8h6.7v6.7h-6.7z"/><path d="M931.2 356.4h6.7v6.7h-6.7z"/><path d="M934.5 355.9h6.7v6.7h-6.7z"/><path d="M937.8 355.8h6.7v6.7h-6.7z"/><path d="M941.1 355.2h6.7v6.7h-6.7z"/><path d="M944.4 355.8h6.7v6.7h-6.7z"/>
<circle cx="455.5" cy="63.3" r="3.8"/><circle cx="458.3" cy="69.5" r="3.8"/><circle cx="461.6" cy="75.1" r="3.8"/><circle cx="464.9" cy="81.1" r="3.8"/><circle cx="468.1" cy="88.5" r="3.8"/><circle cx="471.4" cy="96.3" r="3.8"/><circle cx="474.7" cy="104" r="3.8"/><circle cx="478" cy="111.8" r="3.8"/><circle cx="481.3" cy="119.3" r="3.8"/><circle cx="484.6" cy="126.3" r="3.8"/><circle cx="487.9" cy="133.3" r="3.8"/><circle cx="491.1" cy="140.4" r="3.8"/><circle cx="494.4" cy="147.4" r="3.8"/><circle cx="497.7" cy="154.4" r="3.8"/><circle cx="501" cy="161.5" r="3.8"/><circle cx="504.3" cy="168.5" r="3.8"/><circle cx="507.6" cy="174.7" r="3.8"/><circle cx="510.8" cy="180.9" r="3.8"/><circle cx="514.1" cy="187" r="3.8"/><circle cx="517.4" cy="193.1" r="3.8"/><circle cx="520.7" cy="199.2" r="3.8"/><circle cx="524" cy="205.3" r="3.8"/><circle cx="527.3" cy="211.5" r="3.8"/><circle cx="530.6" cy="217.6" r="3.8"/><circle cx="533.8" cy="223.9" r="3.8"/><circle cx="537.1" cy="230.1" r="3.8"/><circle cx="540.4" cy="235.9" r="3.8"/><circle cx="543.7" cy="240.7" r="3.8"/><circle cx="547" cy="245.6" r="3.8"/><circle cx="550.3" cy="250.4" r="3.8"/><circle cx="553.5" cy="254.3" r="3.8"/><circle cx="556.8" cy="258.1" r="3.8"/><circle cx="560.1" cy="261.8" r="3.8"/><circle cx="563.4" cy="266.4" r="3.8"/><circle cx="566.7" cy="270.3" r="3.8"/><circle cx="570" cy="272.5" r="3.8"/><circle cx="573.3" cy="275.7" r="3.8"/><circle cx="576.5" cy="279.6" r="3.8"/><circle cx="579.8" cy="283.4" r="3.8"/><circle cx="583.1" cy="286.2" r="3.8"/><circle cx="586.4" cy="286.4" r="3.8"/><circle cx="589.7" cy="288.8" r="3.8"/><circle cx="593" cy="288.8" r="3.8"/><circle cx="596.2" cy="290.7" r="3.8"/><circle cx="599.5" cy="291.8" r="3.8"/><circle cx="602.8" cy="294.4" r="3.8"/><circle cx="606.1" cy="294.1" r="3.8"/><circle cx="609.4" cy="295.2" r="3.8"/><circle cx="612.7" cy="297.2" r="3.8"/><circle cx="616" cy="296.9" r="3.8"/><circle cx="619.2" cy="298.5" r="3.8"/><circle cx="622.5" cy="299.2" r="3.8"/><circle cx="625.8" cy="299.6" r="3.8"/><circle cx="629.1" cy="299.7" r="3.8"/><circle cx="632.4" cy="299.9" r="3.8"/><circle cx="635.7" cy="300.7" r="3.8"/><circle cx="638.9" cy="302.1" r="3.8"/><circle cx="642.2" cy="302.1" r="3.8"/><circle cx="645.5" cy="303.4" r="3.8"/><circle cx="648.8" cy="303.2" r="3.8"/><circle cx="652.1" cy="304.3" r="3.8"/><circle cx="655.4" cy="304.1" r="3.8"/><circle cx="658.7" cy="304.7" r="3.8"/><circle cx="661.9" cy="305.6" r="3.8"/><circle cx="665.2" cy="307.3" r="3.8"/><circle cx="668.5" cy="308.1" r="3.8"/><circle cx="671.8" cy="307.9" r="3.8"/><circle cx="675.1" cy="307.7" r="3.8"/><circle cx="678.4" cy="308.4" r="3.8"/><circle cx="681.6" cy="309.2" r="3.8"/><circle cx="684.9" cy="309.6" r="3.8"/><circle cx="688.2" cy="310.7" r="3.8"/><circle cx="691.5" cy="309.7" r="3.8"/><circle cx="694.8" cy="310.1" r="3.8"/><circle cx="698.1" cy="310.8" r="3.8"/><circle cx="701.4" cy="311.9" r="3.8"/><circle cx="704.6" cy="311.6" r="3.8"/><circle cx="707.9" cy="312.4" r="3.8"/><circle cx="711.2" cy="311.4" r="3.8"/><circle cx="714.5" cy="312.7" r="3.8"/><circle cx="717.8" cy="313" r="3.8"/><circle cx="721.1" cy="311.7" r="3.8"/><circle cx="724.3" cy="311.8" r="3.8"/><circle cx="727.6" cy="312.3" r="3.8"/><circle cx="730.9" cy="312.9" r="3.8"/><circle cx="734.2" cy="313.4" r="3.8"/><circle cx="737.5" cy="313.8" r="3.8"/><circle cx="740.8" cy="313.6" r="3.8"/><circle cx="744.1" cy="313.7" r="3.8"/><circle cx="747.3" cy="313.2" r="3.8"/><circle cx="750.6" cy="314.1" r="3.8"/><circle cx="753.9" cy="313.5" r="3.8"/><circle cx="757.2" cy="312.6" r="3.8"/><circle cx="760.5" cy="314.3" r="3.8"/><circle cx="763.8" cy="314.7" r="3.8"/><circle cx="767.1" cy="313.8" r="3.8"/><circle cx="770.3" cy="314.2" r="3.8"/><circle cx="773.6" cy="314.4" r="3.8"/><circle cx="776.9" cy="314.7" r="3.8"/><circle cx="780.2" cy="314.3" r="3.8"/><circle cx="783.5" cy="315" r="3.8"/><circle cx="786.8" cy="314.7" r="3.8"/><circle cx="790" cy="313.9" r="3.8"/><circle cx="793.3" cy="315.7" r="3.8"/><circle cx="796.6" cy="314.9" r="3.8"/><circle cx="799.9" cy="315.2" r="3.8"/><circle cx="803.2" cy="314.4" r="3.8"/><circle cx="806.5" cy="316.1" r="3.8"/><circle cx="809.8" cy="315" r="3.8"/><circle cx="813" cy="315.2" r="3.8"/><circle cx="816.3" cy="315.5" r="3.8"/><circle cx="819.6" cy="316.3" r="3.8"/><circle cx="822.9" cy="316.3" r="3.8"/><circle cx="826.2" cy="315.7" r="3.8"/><circle cx="829.5" cy="317" r="3.8"/><circle cx="832.7" cy="316.5" r="3.8"/><circle cx="836" cy="317.4" r="3.8"/><circle cx="839.3" cy="315.5" r="3.8"/><circle cx="842.6" cy="316.7" r="3.8"/><circle cx="845.9" cy="315.8" r="3.8"/><circle cx="849.2" cy="317.8" r="3.8"/><circle cx="852.5" cy="317.1" r="3.8"/><circle cx="855.7" cy="316.2" r="3.8"/><circle cx="859" cy="317.5" r="3.8"/><circle cx="862.3" cy="318" r="3.8"/><circle cx="865.6" cy="317.4" r="3.8"/><circle cx="868.9" cy="317.9" r="3.8"/><circle cx="872.2" cy="318.2" r="3.8"/><circle cx="875.4" cy="316.8" r="3.8"/><circle cx="878.7" cy="318.4" r="3.8"/><circle cx="882" cy="317.1" r="3.8"/><circle cx="885.3" cy="318.7" r="3.8"/><circle cx="888.6" cy="319.1" r="3.8"/><circle cx="891.9" cy="317.5" r="3.8"/><circle cx="895.2" cy="317.4" r="3.8"/><circle cx="898.4" cy="319.1" r="3.8"/><circle cx="901.7" cy="319.5" r="3.8"/><circle cx="905" cy="318.9" r="3.8"/><circle cx="908.3" cy="319.8" r="3.8"/><circle cx="911.6" cy="318" r="3.8"/><circle cx="914.9" cy="319.6" r="3.8"/><circle cx="918.1" cy="318.4" r="3.8"/><circle cx="921.4" cy="319.3" r="3.8"/><circle cx="924.7" cy="319.9" r="3.8"/><circle cx="928" cy="320.4" r="3.8"/><circle cx="931.3" cy="319" r="3.8"/><circle cx="934.6" cy="320.5" r="3.8"/><circle cx="937.9" cy="319.2" r="3.8"/><circle cx="941.1" cy="320.3" r="3.8"/><circle cx="944.4" cy="320.4" r="3.8"/><circle cx="947.7" cy="320.5" r="3.8"/>
<path d="M455.5 74.8l4.3 7.6h-8.6z"/><path d="M458.3 102.3l4.3 7.6h-8.6z"/><path d="M461.6 133.2l4.3 7.6h-8.6z"/><path d="M464.9 156.6l4.3 7.6h-8.6z"/><path d="M468.1 171.4l4.3 7.6h-8.6z"/><path d="M471.4 183.6l4.3 7.6h-8.6z"/><path d="M474.7 195.5l4.3 7.6h-8.6z"/><path d="M478 205.2l4.3 7.6h-8.6z"/><path d="M481.3 213.1l4.3 7.6h-8.6z"/><path d="M484.6 221.5l4.3 7.6h-8.6z"/><path d="M487.9 226.2l4.3 7.6h-8.6z"/><path d="M491.1 230.2l4.3 7.6h-8.6z"/><path d="M494.4 234.2l4.3 7.6h-8.6z"/><path d="M497.7 237.6l4.3 7.6h-8.6z"/><path d="M501 241l4.3 7.6h-8.6z"/><path d="M504.3 244.7l4.3 7.6h-8.6z"/><path d="M507.6 248.5l4.3 7.6h-8.6z"/><path d="M510.8 252.2l4.3 7.6h-8.6z"/><path d="M514.1 255.2l4.3 7.6h-8.6z"/><path d="M517.4 257.6l4.3 7.6h-8.6z"/><path d="M520.7 260l4.3 7.6h-8.6z"/><path d="M524 262.4l4.3 7.6h-8.6z"/><path d="M527.3 264.9l4.3 7.6h-8.6z"/><path d="M530.6 267.3l4.3 7.6h-8.6z"/><path d="M533.8 269.7l4.3 7.6h-8.6z"/><path d="M537.1 270.9l4.3 7.6h-8.6z"/><path d="M540.4 271.9l4.3 7.6h-8.6z"/><path d="M543.7 272.9l4.3 7.6h-8.6z"/><path d="M547 273.9l4.3 7.6h-8.6z"/><path d="M550.3 274.9l4.3 7.6h-8.6z"/><path d="M553.5 275.9l4.3 7.6h-8.6z"/><path d="M556.8 276.9l4.3 7.6h-8.6z"/><path d="M560.1 278.9l4.3 7.6h-8.6z"/><path d="M563.4 279l4.3 7.6h-8.6z"/><path d="M566.7 280.1l4.3 7.6h-8.6z"/><path d="M570 280.5l4.3 7.6h-8.6z"/><path d="M573.3 281.1l4.3 7.6h-8.6z"/><path d="M576.5 282.8l4.3 7.6h-8.6z"/><path d="M579.8 282.8l4.3 7.6h-8.6z"/><path d="M583.1 283.5l4.3 7.6h-8.6z"/><path d="M586.4 284.6l4.3 7.6h-8.6z"/><path d="M589.7 285.9l4.3 7.6h-8.6z"/><path d="M593 286.2l4.3 7.6h-8.6z"/><path d="M596.2 286.8l4.3 7.6h-8.6z"/><path d="M599.5 289l4.3 7.6h-8.6z"/><path d="M602.8 289.5l4.3 7.6h-8.6z"/><path d="M606.1 289.9l4.3 7.6h-8.6z"/><path d="M609.4 290.5l4.3 7.6h-8.6z"/><path d="M612.7 291l4.3 7.6h-8.6z"/><path d="M616 292.4l4.3 7.6h-8.6z"/><path d="M619.2 292.8l4.3 7.6h-8.6z"/><path d="M622.5 294.5l4.3 7.6h-8.6z"/><path d="M625.8 294.3l4.3 7.6h-8.6z"/><path d="M629.1 295.8l4.3 7.6h-8.6z"/><path d="M632.4 295.7l4.3 7.6h-8.6z"/><path d="M635.7 297.8l4.3 7.6h-8.6z"/><path d="M638.9 297.2l4.3 7.6h-8.6z"/><path d="M642.2 299.4l4.3 7.6h-8.6z"/><path d="M645.5 298.7l4.3 7.6h-8.6z"/><path d="M648.8 300.2l4.3 7.6h-8.6z"/><path d="M652.1 300.6l4.3 7.6h-8.6z"/><path d="M655.4 301.9l4.3 7.6h-8.6z"/><path d="M658.7 302.9l4.3 7.6h-8.6z"/><path d="M661.9 301.7l4.3 7.6h-8.6z"/><path d="M665.2 304l4.3 7.6h-8.6z"/><path d="M668.5 303.9l4.3 7.6h-8.6z"/><path d="M671.8 303.9l4.3 7.6h-8.6z"/><path d="M675.1 305.3l4.3 7.6h-8.6z"/><path d="M678.4 306.4l4.3 7.6h-8.6z"/><path d="M681.6 307.3l4.3 7.6h-8.6z"/><path d="M684.9 307l4.3 7.6h-8.6z"/><path d="M688.2 307.7l4.3 7.6h-8.6z"/><path d="M691.5 308.9l4.3 7.6h-8.6z"/><path d="M694.8 309.2l4.3 7.6h-8.6z"/><path d="M698.1 308.1l4.3 7.6h-8.6z"/><path d="M701.4 309.7l4.3 7.6h-8.6z"/><path d="M704.6 310l4.3 7.6h-8.6z"/><path d="M707.9 310.9l4.3 7.6h-8.6z"/><path d="M711.2 310.7l4.3 7.6h-8.6z"/><path d="M714.5 311l4.3 7.6h-8.6z"/><path d="M717.8 311.1l4.3 7.6h-8.6z"/><path d="M721.1 310.5l4.3 7.6h-8.6z"/><path d="M724.3 310.5l4.3 7.6h-8.6z"/><path d="M727.6 312.6l4.3 7.6h-8.6z"/><path d="M730.9 311.4l4.3 7.6h-8.6z"/><path d="M734.2 313.2l4.3 7.6h-8.6z"/><path d="M737.5 312.6l4.3 7.6h-8.6z"/><path d="M740.8 312.3l4.3 7.6h-8.6z"/><path d="M744.1 312.8l4.3 7.6h-8.6z"/><path d="M747.3 313.6l4.3 7.6h-8.6z"/><path d="M750.6 314.3l4.3 7.6h-8.6z"/><path d="M753.9 314.6l4.3 7.6h-8.6z"/><path d="M757.2 314.4l4.3 7.6h-8.6z"/><path d="M760.5 315.4l4.3 7.6h-8.6z"/><path d="M763.8 315.4l4.3 7.6h-8.6z"/><path d="M767.1 314.4l4.3 7.6h-8.6z"/><path d="M770.3 315.6l4.3 7.6h-8.6z"/><path d="M773.6 316.1l4.3 7.6h-8.6z"/><path d="M776.9 315.1l4.3 7.6h-8.6z"/><path d="M780.2 316.1l4.3 7.6h-8.6z"/><path d="M783.5 317.1l4.3 7.6h-8.6z"/><path d="M786.8 317l4.3 7.6h-8.6z"/><path d="M790 316.4l4.3 7.6h-8.6z"/><path d="M793.3 317l4.3 7.6h-8.6z"/><path d="M796.6 317.6l4.3 7.6h-8.6z"/><path d="M799.9 317.2l4.3 7.6h-8.6z"/><path d="M803.2 317.3l4.3 7.6h-8.6z"/><path d="M806.5 319.3l4.3 7.6h-8.6z"/><path d="M809.8 318l4.3 7.6h-8.6z"/><path d="M813 318.6l4.3 7.6h-8.6z"/><path d="M816.3 320.4l4.3 7.6h-8.6z"/><path d="M819.6 318.9l4.3 7.6h-8.6z"/><path d="M822.9 320.7l4.3 7.6h-8.6z"/><path d="M826.2 319.9l4.3 7.6h-8.6z"/><path d="M829.5 320.5l4.3 7.6h-8.6z"/><path d="M832.7 321.4l4.3 7.6h-8.6z"/><path d="M836 321.5l4.3 7.6h-8.6z"/><path d="M839.3 321.1l4.3 7.6h-8.6z"/><path d="M842.6 322.2l4.3 7.6h-8.6z"/><path d="M845.9 321.5l4.3 7.6h-8.6z"/><path d="M849.2 322.2l4.3 7.6h-8.6z"/><path d="M852.5 323l4.3 7.6h-8.6z"/><path d="M855.7 323.4l4.3 7.6h-8.6z"/><path d="M859 323.2l4.3 7.6h-8.6z"/><path d="M862.3 322.8l4.3 7.6h-8.6z"/><path d="M865.6 324.3l4.3 7.6h-8.6z"/><path d="M868.9 323.3l4.3 7.6h-8.6z"/><path d="M872.2 323.8l4.3 7.6h-8.6z"/><path d="M875.4 324.6l4.3 7.6h-8.6z"/><path d="M878.7 325.1l4.3 7.6h-8.6z"/><path d="M882 325.9l4.3 7.6h-8.6z"/><path d="M885.3 324.5l4.3 7.6h-8.6z"/><path d="M888.6 326.7l4.3 7.6h-8.6z"/><path d="M891.9 325.3l4.3 7.6h-8.6z"/><path d="M895.2 325.5l4.3 7.6h-8.6z"/><path d="M898.4 325.8l4.3 7.6h-8.6z"/><path d="M901.7 326.7l4.3 7.6h-8.6z"/><path d="M905 327.7l4.3 7.6h-8.6z"/><path d="M908.3 328.1l4.3 7.6h-8.6z"/><path d="M911.6 328.7l4.3 7.6h-8.6z"/><path d="M914.9 328.5l4.3 7.6h-8.6z"/><path d="M918.1 328.7l4.3 7.6h-8.6z"/><path d="M921.4 329.1l4.3 7.6h-8.6z"/><path d="M924.7 329.4l4.3 7.6h-8.6z"/><path d="M928 329.6l4.3 7.6h-8.6z"/><path d="M931.3 330.7l4.3 7.6h-8.6z"/><path d="M934.6 329.2l4.3 7.6h-8.6z"/><path d="M937.9 329.5l4.3 7.6h-8.6z"/><path d="M941.1 329.7l4.3 7.6h-8.6z"/><path d="M944.4 330.5l4.3 7.6h-8.6z"/><path d="M947.7 332.3l4.3 7.6h-8.6z"/>
</g>
</svg>
</body></html>
